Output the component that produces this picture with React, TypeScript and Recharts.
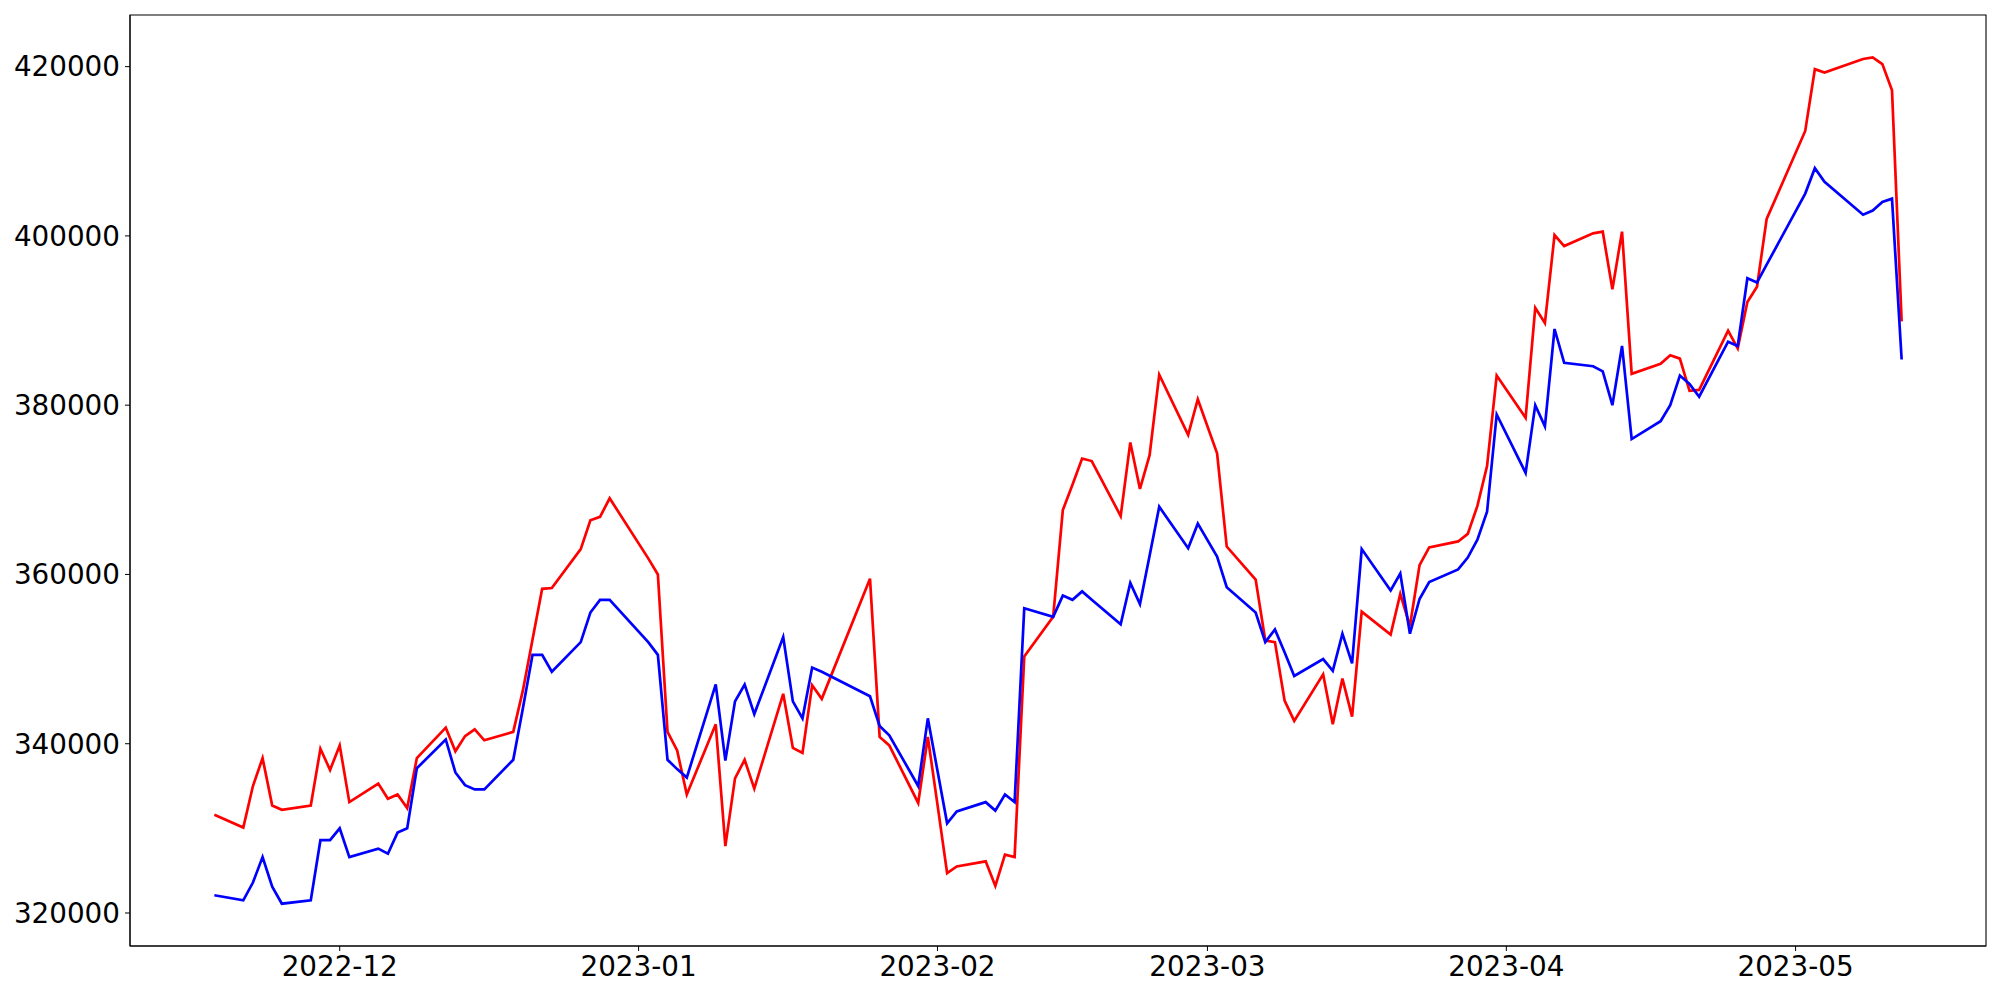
import { LineChart, Line, XAxis, YAxis, ReferenceArea } from "recharts";

const DATES = [
  "2022-11-18", "2022-11-21", "2022-11-22", "2022-11-23", "2022-11-24", "2022-11-25",
  "2022-11-28", "2022-11-29", "2022-11-30", "2022-12-01", "2022-12-02",
  "2022-12-05", "2022-12-06", "2022-12-07", "2022-12-08", "2022-12-09",
  "2022-12-12", "2022-12-13", "2022-12-14", "2022-12-15", "2022-12-16",
  "2022-12-19", "2022-12-20", "2022-12-21", "2022-12-22", "2022-12-23",
  "2022-12-26", "2022-12-27", "2022-12-28", "2022-12-29",
  "2023-01-02", "2023-01-03", "2023-01-04", "2023-01-05", "2023-01-06",
  "2023-01-09", "2023-01-10", "2023-01-11", "2023-01-12", "2023-01-13",
  "2023-01-16", "2023-01-17", "2023-01-18", "2023-01-19", "2023-01-20",
  "2023-01-25", "2023-01-26", "2023-01-27",
  "2023-01-30", "2023-01-31", "2023-02-01", "2023-02-02", "2023-02-03",
  "2023-02-06", "2023-02-07", "2023-02-08", "2023-02-09", "2023-02-10",
  "2023-02-13", "2023-02-14", "2023-02-15", "2023-02-16", "2023-02-17",
  "2023-02-20", "2023-02-21", "2023-02-22", "2023-02-23", "2023-02-24",
  "2023-02-27", "2023-02-28", "2023-03-02", "2023-03-03",
  "2023-03-06", "2023-03-07", "2023-03-08", "2023-03-09", "2023-03-10",
  "2023-03-13", "2023-03-14", "2023-03-15", "2023-03-16", "2023-03-17",
  "2023-03-20", "2023-03-21", "2023-03-22", "2023-03-23", "2023-03-24",
  "2023-03-27", "2023-03-28", "2023-03-29", "2023-03-30", "2023-03-31",
  "2023-04-03", "2023-04-04", "2023-04-05", "2023-04-06", "2023-04-07",
  "2023-04-10", "2023-04-11", "2023-04-12", "2023-04-13", "2023-04-14",
  "2023-04-17", "2023-04-18", "2023-04-19", "2023-04-20", "2023-04-21",
  "2023-04-24", "2023-04-25", "2023-04-26", "2023-04-27", "2023-04-28",
  "2023-05-02", "2023-05-03", "2023-05-04",
  "2023-05-08", "2023-05-09", "2023-05-10", "2023-05-11", "2023-05-12",
];

const RED = [
  331600, 330100, 335000, 338300, 332700, 332200,
  332700, 339400, 336900, 339800, 333100,
  335300, 333500, 334000, 332400, 338300,
  341900, 339100, 340900, 341700, 340400,
  341400, 346300, 352300, 358300, 358400,
  363000, 366400, 366800, 369000,
  361900, 360000, 341400, 339200, 334000,
  342300, 327900, 335900, 338100, 334700,
  345900, 339500, 338900, 346900, 345300,
  359500, 340800, 339800,
  333000, 340800, 332800, 324700, 325500,
  326100, 323200, 326900, 326600, 350300,
  355000, 367600, 370600, 373700, 373400,
  366900, 375600, 370100, 374100, 383600,
  376500, 380700, 374300, 363300,
  359400, 352200, 352000, 345100, 342700,
  348200, 342300, 347700, 343200, 355600,
  352900, 357700, 353900, 361100, 363200,
  363900, 364800, 368100, 372800, 383500,
  378500, 391500, 389700, 400100, 398800,
  400300, 400500, 393700, 400500, 383700,
  384900, 385900, 385500, 381700, 381800,
  388800, 386700, 392200, 394000, 402000,
  412400, 419700, 419300,
  420900, 421100, 420300, 417200, 389900,
];

const BLUE = [
  322100, 321500, 323600, 326600, 323100, 321100,
  321500, 328600, 328600, 330000, 326600,
  327600, 327000, 329500, 330000, 337100,
  340500, 336600, 335100, 334600, 334600,
  338100, 344200, 350500, 350500, 348500,
  352000, 355500, 357000, 357000,
  352000, 350500, 338100, 337000, 336000,
  347000, 338000, 345000, 347000, 343500,
  352600, 345000, 343000, 349000, 348500,
  345600, 342100, 341000,
  335000, 343000, 336800, 330600, 332000,
  333100, 332100, 334000, 333100, 356000,
  355000, 357500, 357000, 358000, 357000,
  354100, 359000, 356500, 362200, 368000,
  363100, 366000, 362100, 358500,
  355500, 352000, 353500, 350800, 348000,
  350000, 348600, 353000, 349500, 363000,
  358100, 360100, 353000, 357100, 359100,
  360600, 362000, 364100, 367400, 378900,
  372000, 380000, 377500, 389000, 385000,
  384600, 384000, 380000, 387000, 376000,
  378100, 380000, 383500, 382500, 381000,
  387500, 387000, 395000, 394500, 396600,
  405000, 408000, 406400,
  402500, 403000, 404000, 404400, 385400,
];

const X_TICKS = ["2022-12-01", "2023-01-01", "2023-02-01", "2023-03-01", "2023-04-01", "2023-05-01"];
const Y_TICKS = [320000, 340000, 360000, 380000, 400000, 420000];

const times = DATES.map((d) => Date.parse(d));
const xPad = (times[times.length - 1] - times[0]) * 0.05;
const X_MIN = times[0] - xPad;
const X_MAX = times[times.length - 1] + xPad;

const allValues = [...RED, ...BLUE];
const yLo = Math.min(...allValues);
const yHi = Math.max(...allValues);
const yPad = (yHi - yLo) * 0.05;
const Y_MIN = yLo - yPad;
const Y_MAX = yHi + yPad;

const data = times.map((t, i) => ({ t, red: RED[i], blue: BLUE[i] }));

const formatMonth = (t: number) => {
  const d = new Date(t);
  return `${d.getUTCFullYear()}-${String(d.getUTCMonth() + 1).padStart(2, "0")}`;
};

const tickStyle = { fill: "#000", fontSize: 27.8, fontFamily: "DejaVu Sans" };

export default function App() {
  return (
    <div style={{ position: "absolute", left: 0, top: 0, background: "#fff" }}>
      <LineChart
        width={2000}
        height={1000}
        data={data}
        margin={{ top: 15, right: 14, bottom: 0, left: 10 }}
      >
        <XAxis
          dataKey="t"
          type="number"
          scale="time"
          domain={[X_MIN, X_MAX]}
          ticks={X_TICKS.map((d) => Date.parse(d))}
          tickFormatter={formatMonth}
          height={54}
          tick={tickStyle}
          tickSize={5}
          tickMargin={5}
          stroke="#000"
          allowDataOverflow
        />
        <YAxis
          type="number"
          domain={[Y_MIN, Y_MAX]}
          ticks={Y_TICKS}
          width={120}
          tick={tickStyle}
          tickSize={5}
          tickMargin={5}
          stroke="#000"
          allowDataOverflow
        />
        <ReferenceArea
          x1={X_MIN}
          x2={X_MAX}
          y1={Y_MIN}
          y2={Y_MAX}
          fill="none"
          stroke="#000"
          strokeWidth={1.1}
          fillOpacity={0}
        />
        <Line
          dataKey="red"
          type="linear"
          stroke="#ff0000"
          strokeWidth={2.7}
          dot={false}
          isAnimationActive={false}
        />
        <Line
          dataKey="blue"
          type="linear"
          stroke="#0000ff"
          strokeWidth={2.7}
          dot={false}
          isAnimationActive={false}
        />
      </LineChart>
    </div>
  );
}
